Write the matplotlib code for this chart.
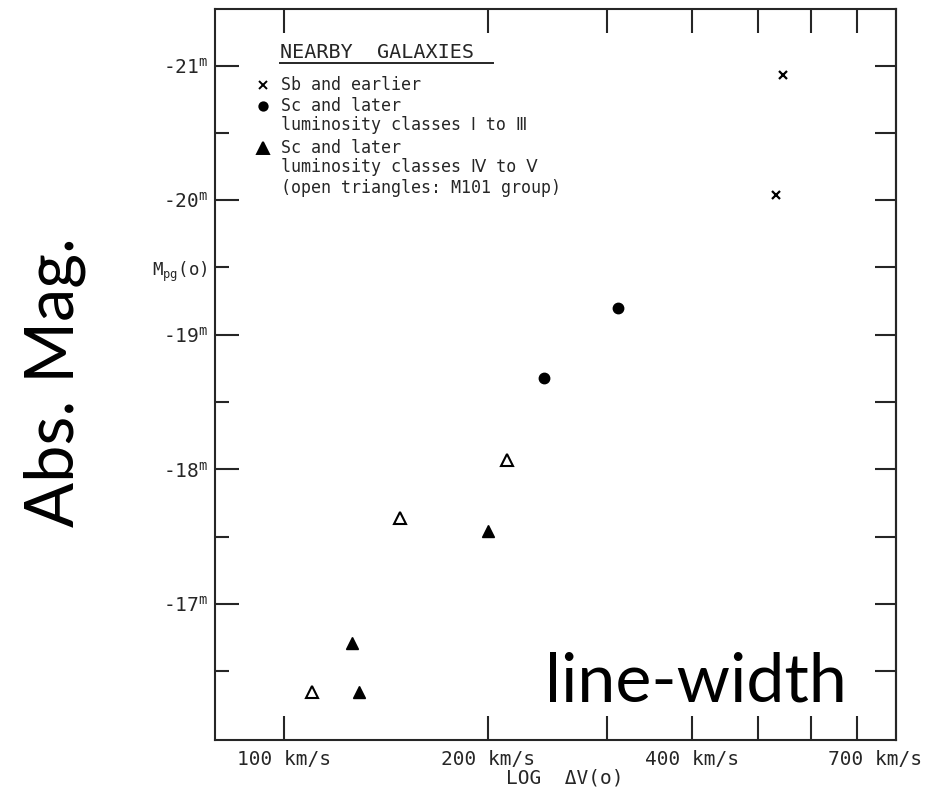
import matplotlib
matplotlib.use('Agg')
import matplotlib.pyplot as plt
from matplotlib.ticker import FixedLocator, FixedFormatter, NullFormatter
from matplotlib.transforms import ScaledTranslation

# values (line width in km/s, M_pg in mag)
sb_vel = [545, 532]
sb_mag = [-20.93, -20.04]
sc_vel = [311, 242]
sc_mag = [-19.20, -18.68]
late_vel = [200, 126, 129]
late_mag = [-17.54, -16.71, -16.35]
m101_vel = [213, 148, 110]
m101_mag = [-18.07, -17.64, -16.35]

x_ticks = [100, 200, 400, 700]
x_labels = ['100 km/s', '200 km/s', '400 km/s', '700 km/s']
x_minor = [300, 500, 600]
y_ticks = [-21, -20, -19, -18, -17]
y_labels = [f'{v}' + r'$^{\mathrm{m}}$' for v in y_ticks]
y_minor = [-20.5, -19.5, -18.5, -17.5, -16.5]
y_minor_labels = ['', r'M$_{\mathrm{pg}}$(o)', '', '', '']

legend_title = 'NEARBY  GALAXIES'
legend_rows = [
    ('x', 'Sb and earlier'),
    ('o', 'Sc and later'),
    (None, 'luminosity classes \u2160 to \u2162'),
    ('^', 'Sc and later'),
    (None, 'luminosity classes \u2163 to \u2164'),
    (None, '(open triangles: M101 group)'),
]

INK = '#262626'
MONO = ['DejaVu Sans Mono', 'DejaVu Sans']
plt.rcParams['font.family'] = MONO
plt.rcParams['mathtext.fontset'] = 'custom'
plt.rcParams['mathtext.rm'] = 'DejaVu Sans Mono'
plt.rcParams['mathtext.it'] = 'DejaVu Sans Mono'

W, H = 944, 798
fig = plt.figure(figsize=(W / 100, H / 100), dpi=100)
ax = fig.add_axes([215 / W, 1 - 740 / H, (896 - 215) / W, (740 - 9) / H])

ax.set_xscale('log')
ax.set_xlim(79, 800)
ax.set_ylim(-15.99, -21.42)

# data
ax.plot(sb_vel, sb_mag, 'x', color='black', ms=6, mew=1.6)
ax.plot(sc_vel, sc_mag, 'o', color='black', ms=7.5)
ax.plot(late_vel, late_mag, '^', color='black', ms=9)
ax.plot(m101_vel, m101_mag, '^', mfc='white', mec='black', ms=8.5, mew=1.5)

# axes frame and ticks
for s in ax.spines.values():
    s.set_linewidth(1.5)
    s.set_color(INK)

ax.xaxis.set_major_locator(FixedLocator(x_ticks))
ax.xaxis.set_major_formatter(FixedFormatter(x_labels))
ax.xaxis.set_minor_locator(FixedLocator(x_minor))
ax.xaxis.set_minor_formatter(NullFormatter())
ax.tick_params(axis='x', which='both', direction='in', length=17, width=1.5,
               color=INK, top=True, labelsize=14, labelcolor=INK, pad=7)

ax.yaxis.set_major_locator(FixedLocator(y_ticks))
ax.yaxis.set_major_formatter(FixedFormatter(y_labels))
ax.yaxis.set_minor_locator(FixedLocator(y_minor))
ax.yaxis.set_minor_formatter(FixedFormatter(y_minor_labels))
ax.tick_params(axis='y', which='major', direction='in', length=17, width=1.5,
               color=INK, labelsize=14, labelcolor=INK, pad=5)
ax.tick_params(axis='y', which='minor', direction='in', length=10, width=1.5,
               color=INK, labelsize=12.5, labelcolor=INK, pad=5)

# the last velocity label sits a bit right of its tick in the original
last = ax.xaxis.get_major_ticks()[-1].label1
last.set_transform(last.get_transform() + ScaledTranslation(18 / 100, 0, fig.dpi_scale_trans))

right = ax.secondary_yaxis('right')
right.yaxis.set_major_locator(FixedLocator(y_ticks + y_minor))
right.yaxis.set_major_formatter(NullFormatter())
right.tick_params(direction='in', length=15, width=1.5, color=INK)
right.spines['right'].set_linewidth(1.5)
right.spines['right'].set_color(INK)

# legend block, drawn by hand like the original lettering
def ax_xy(px, py):
    return (px - 215) / (896 - 215), 1 - (py - 9) / (740 - 9)

tx, ty = ax_xy(280, 53)
ax.text(tx, ty, legend_title, transform=ax.transAxes, fontsize=14.5,
        color=INK, va='center', ha='left')
u0, uy = ax_xy(280, 63)
u1, _ = ax_xy(493, 63)
ax.plot([u0, u1], [uy, uy], color=INK, lw=1.4, transform=ax.transAxes, clip_on=False)

row_y = [85, 106, 125, 148, 167, 188]
marker_size = {'x': 5.5, 'o': 6, '^': 8}
for (mk, label), py in zip(legend_rows, row_y):
    x0, y0 = ax_xy(281, py)
    ax.text(x0, y0, label, transform=ax.transAxes, fontsize=12, color=INK,
            va='center', ha='left')
    if mk is not None:
        mx, my = ax_xy(263, py)
        ax.plot([mx], [my], mk, color='black', ms=marker_size[mk], mew=1.4,
                transform=ax.transAxes, clip_on=False)

# axis titles
fig.text(565 / W, 1 - 778 / H, 'LOG  \u0394V(o)', fontsize=14, color=INK,
         ha='center', va='center')
fig.text(55 / W, 1 - 382 / H, 'Abs. Mag.', family='Lato', fontsize=48,
         rotation=90, ha='center', va='center', color='black')
fig.text(545 / W, 1 - 702 / H, 'line-width', family='Lato', fontsize=49,
         ha='left', va='baseline', color='black')

fig.savefig('out.png', dpi=100)
